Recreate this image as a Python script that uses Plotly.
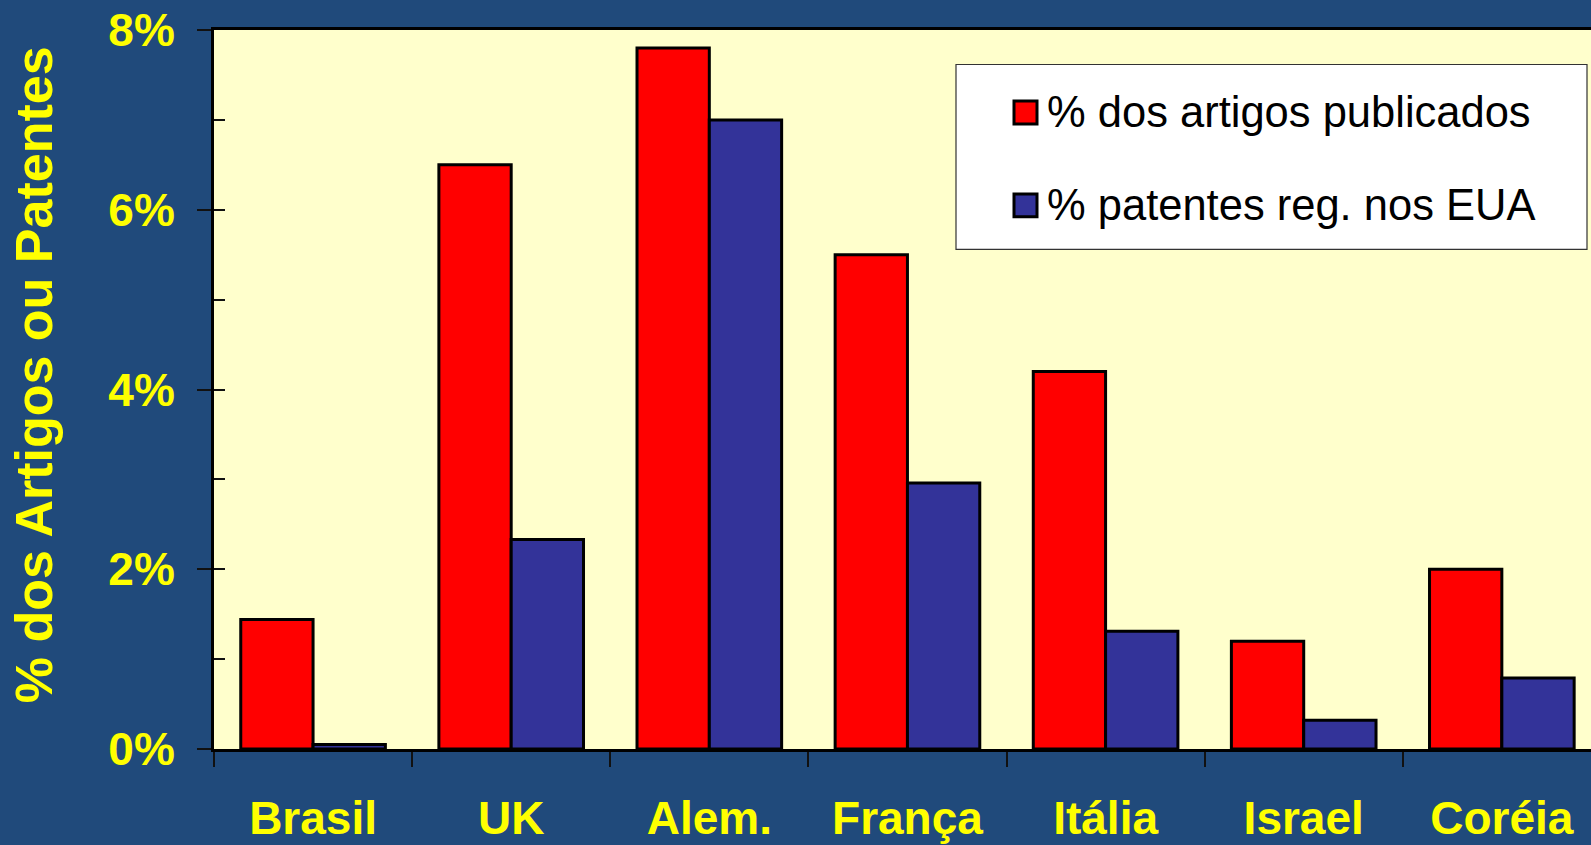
import plotly.graph_objects as go

# Share of world scientific articles vs. share of US-registered patents (%)
paises = ["Brasil", "UK", "Alem.", "França", "Itália", "Israel", "Coréia"]
artigos = [1.44, 6.5, 7.8, 5.5, 4.2, 1.2, 2.0]
patentes = [0.05, 2.33, 7.0, 2.96, 1.31, 0.32, 0.79]
nome_artigos = "% dos artigos publicados"
nome_patentes = "% patentes reg. nos EUA"
y_ticks = [0, 2, 4, 6, 8]
y_tick_labels = ["0%", "2%", "4%", "6%", "8%"]

W, H = 1591, 845
L, T, B = 214, 29.5, 96
BG = "#204A7B"
PLOT_BG = "#FFFFCC"
RED = "#FF0000"
BLUE = "#333399"
YELLOW = "#FFFF00"
FONT = "Liberation Sans, Arial, sans-serif"

fig = go.Figure()
fig.add_trace(go.Bar(x=paises, y=artigos, name=nome_artigos,
                     marker=dict(color=RED, line=dict(color="black", width=3)),
                     showlegend=False))
fig.add_trace(go.Bar(x=paises, y=patentes, name=nome_patentes,
                     marker=dict(color=BLUE, line=dict(color="black", width=3)),
                     showlegend=False))
# overlay axis only used for the inside tick marks at every 1%
fig.add_trace(go.Scatter(x=[paises[0]], y=[0], yaxis="y2", mode="markers",
                         marker=dict(opacity=0), showlegend=False, hoverinfo="skip"))

fig.update_layout(
    width=W, height=H, autosize=False,
    margin=dict(l=L, r=0, t=T, b=B),
    paper_bgcolor=BG, plot_bgcolor=PLOT_BG,
    barmode="group", bargap=0.27, bargroupgap=0,
    showlegend=False,
    xaxis=dict(
        type="category", range=[-0.5, 6.45],
        showline=True, linecolor="black", linewidth=3, mirror=True,
        ticks="outside", ticklen=15, tickwidth=1.5, tickcolor="#111111",
        tickson="boundaries", showgrid=False, zeroline=False,
        tickfont=dict(family=FONT, size=46, color=YELLOW, weight="bold"),
        ticklabelstandoff=27,
    ),
    yaxis=dict(
        range=[0, 8], tickmode="array", tickvals=y_ticks, ticktext=y_tick_labels,
        showline=True, linecolor="black", linewidth=3,
        ticks="outside", ticklen=14, tickwidth=1.5, tickcolor="#111111",
        showgrid=False, zeroline=False,
        tickfont=dict(family=FONT, size=46, color=YELLOW, weight="bold"),
        ticklabelstandoff=13,
    ),
    yaxis2=dict(
        range=[0, 8], dtick=1, overlaying="y", side="left",
        ticks="inside", ticklen=11, tickwidth=1.5, tickcolor="#111111",
        showticklabels=False, showgrid=False, zeroline=False, showline=False,
    ),
)

# axis title
fig.add_annotation(
    text="% dos Artigos ou Patentes", textangle=-90,
    xref="paper", yref="paper",
    x=(34 - L) / (W - L), y=(H - B - 375) / (H - B - T),
    xanchor="center", yanchor="middle", showarrow=False,
    font=dict(family=FONT, size=52, color=YELLOW, weight="bold"),
)

# legend box
def px_x(px):
    return (px - L) / (W - L)

def px_y(py):
    return (H - B - py) / (H - B - T)

fig.add_shape(type="rect", xref="paper", yref="paper",
              x0=px_x(956), x1=px_x(1587), y0=px_y(64), y1=px_y(249),
              fillcolor="white", line=dict(color="#333333", width=1.2))
for cy, cor, nome in [(112, RED, nome_artigos), (205, BLUE, nome_patentes)]:
    fig.add_shape(type="rect", xref="paper", yref="paper",
                  x0=px_x(1014), x1=px_x(1037), y0=px_y(cy - 11.5), y1=px_y(cy + 11.5),
                  fillcolor=cor, line=dict(color="black", width=3))
    fig.add_annotation(text=nome, xref="paper", yref="paper",
                       x=px_x(1045), y=px_y(cy), xanchor="left", yanchor="middle",
                       showarrow=False,
                       font=dict(family=FONT, size=43.5, color="black"))

fig.write_html("out.html")
